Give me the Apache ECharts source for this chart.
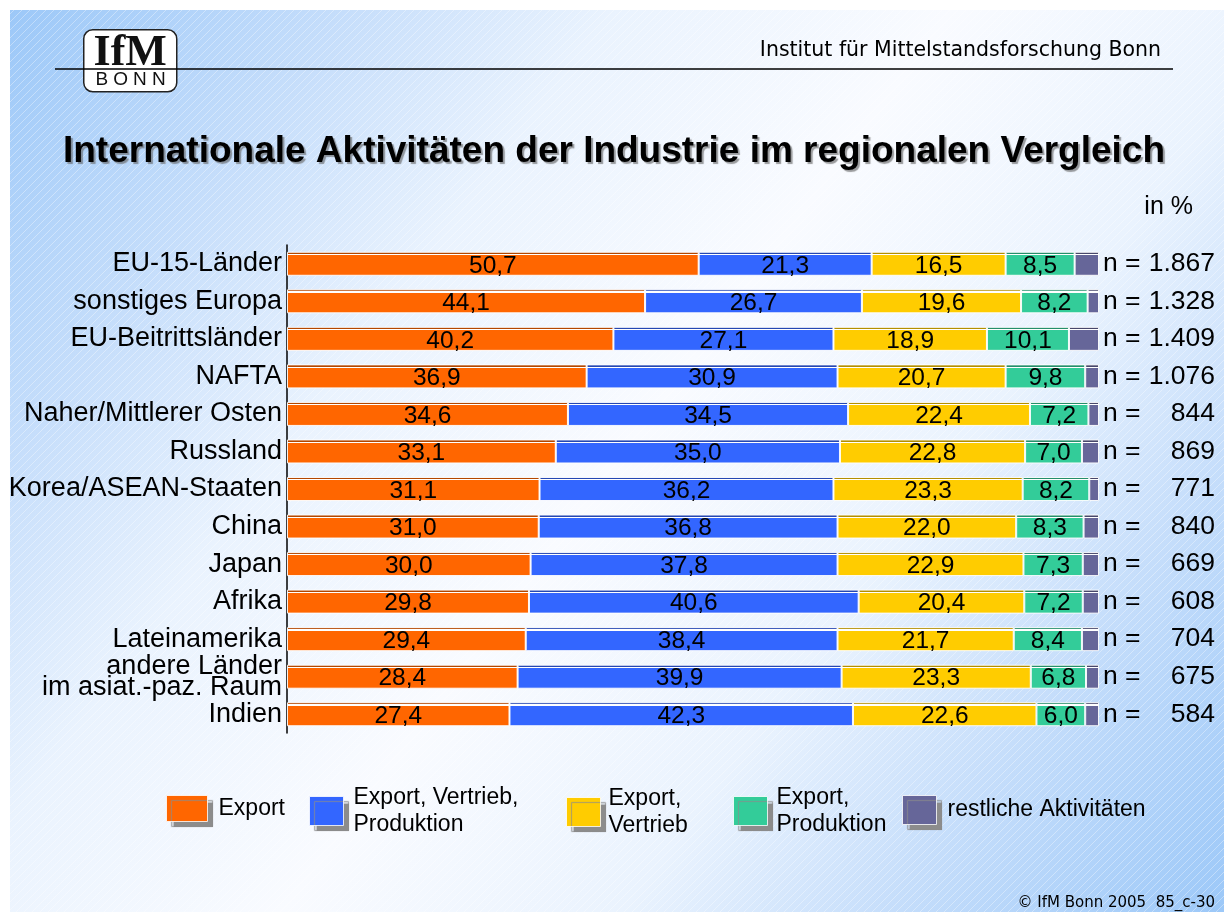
<!DOCTYPE html>
<html><head><meta charset="utf-8">
<script src="https://cdn.jsdelivr.net/npm/echarts@6/dist/echarts.min.js"></script>
<style>html,body{margin:0;padding:0;background:#fff}#c{width:1224px;height:912px}</style>
</head><body><div id="c"></div><script>
const categories = ['EU-15-Länder','sonstiges Europa','EU-Beitrittsländer','NAFTA','Naher/Mittlerer Osten','Russland','Korea/ASEAN-Staaten','China','Japan','Afrika','Lateinamerika','andere Länder\nim asiat.-paz. Raum','Indien'];
const exportVals = [50.7,44.1,40.2,36.9,34.6,33.1,31.1,31.0,30.0,29.8,29.4,28.4,27.4];
const exportVertriebProd = [21.3,26.7,27.1,30.9,34.5,35.0,36.2,36.8,37.8,40.6,38.4,39.9,42.3];
const exportVertrieb = [16.5,19.6,18.9,20.7,22.4,22.8,23.3,22.0,22.9,20.4,21.7,23.3,22.6];
const exportProd = [8.5,8.2,10.1,9.8,7.2,7.0,8.2,8.3,7.3,7.2,8.4,6.8,6.0];
const restliche = [3.0,1.4,3.7,1.7,1.3,2.1,1.2,1.9,2.0,2.0,2.1,1.6,1.7];
const nLabels = ['1.867','1.328','1.409','1.076','844','869','771','840','669','608','704','675','584'];
const seriesNames = ['Export','Export, Vertrieb, Produktion','Export, Vertrieb','Export, Produktion','restliche Aktivitäten'];
const legendTexts = ['Export','Export, Vertrieb,\nProduktion','Export,\nVertrieb','Export,\nProduktion','restliche Aktivitäten'];

const mainColors = ['#FF6600','#3366FF','#FFCC00','#33CC99','#666699'];
const topColors = ['#B34700','#2447B3','#B38F00','#248F6B','#47476B'];
const SANS = '"Liberation Sans", Arial, sans-serif';

function barColor(i){
  return new echarts.graphic.LinearGradient(0,0,0,1,[
    {offset:0,color:topColors[i]},{offset:0.09,color:topColors[i]},
    {offset:0.09,color:'#ffffff'},{offset:0.14,color:'#ffffff'},
    {offset:0.14,color:mainColors[i]},{offset:1,color:mainColors[i]}
  ]);
}
const fmt = p => p.value.toFixed(1).replace('.',',');

const allData = [exportVals, exportVertriebProd, exportVertrieb, exportProd, restliche];
const series = allData.map((d,i)=>({
  name: seriesNames[i], type:'bar', stack:'total', barWidth:24,
  data:d,
  itemStyle:{color:barColor(i), borderColor:'rgba(255,255,255,0.9)', borderWidth:1},
  label:{show:i<4, position:'inside', color:'#000', fontSize:24.5, fontFamily:SANS, offset:[0,2], formatter:fmt},
  emphasis:{disabled:true}
}));

// background stripe pattern
const pc = document.createElement('canvas'); pc.width=8; pc.height=8;
const pctx = pc.getContext('2d');
pctx.strokeStyle='rgba(255,255,255,0.35)'; pctx.lineWidth=1;
pctx.beginPath(); pctx.moveTo(0,8); pctx.lineTo(8,0); pctx.moveTo(-1,1); pctx.lineTo(1,-1); pctx.moveTo(7,9); pctx.lineTo(9,7); pctx.stroke();

const legendPos = [
  {left:166, top:795, w:41, h:26, pad:6},
  {left:309, top:784, w:34, h:29, pad:5},
  {left:566, top:785, w:34, h:29, pad:3},
  {left:733, top:784, w:34, h:29, pad:4},
  {left:902, top:795, w:34, h:29, pad:6}
];
const legends = legendPos.map((p,i)=>({
  left:p.left, top:p.top, padding:0, itemGap:0, itemWidth:p.w, itemHeight:p.h, icon:'rect',
  selectedMode:false,
  data:[{name:seriesNames[i], itemStyle:{color:mainColors[i], borderColor:'rgba(255,255,255,0.8)', borderWidth:1, shadowColor:'#8c8c8c', shadowBlur:1, shadowOffsetX:5, shadowOffsetY:5}}],
  formatter:()=>legendTexts[i],
  textStyle:{fontSize:23, fontFamily:SANS, color:'#000', lineHeight:27, padding:[0,0,0,p.pad]}
}));

const chart = echarts.init(document.getElementById('c'), null, {renderer:'canvas'});
chart.setOption({
  animation:false,
  backgroundColor:'#ffffff',
  legend: legends,
  grid:{left:287, top:245, width:812, height:488, containLabel:false},
  xAxis:{type:'value', min:0, max:100, show:false},
  yAxis:[
    {type:'category', data:categories, inverse:true, offset:2,
     axisLine:{show:true, lineStyle:{color:'#000', width:1.5}}, axisTick:{show:false},
     axisLabel:{color:'#000', fontSize:27, fontFamily:SANS, margin:3, lineHeight:21}},
    {type:'category', data:nLabels, inverse:true, position:'right',
     axisLine:{show:false}, axisTick:{show:false},
     axisLabel:{margin:4, align:'left', formatter:v=>'{a|n =}{b|'+v+'}',
       rich:{a:{fontSize:26.5, fontFamily:SANS, color:'#000', width:42, align:'left'},
             b:{fontSize:26.5, fontFamily:SANS, color:'#000', width:70, align:'right'}}}}
  ],
  series: series,
  graphic:[
    {type:'rect', z:-100, silent:true, shape:{x:10,y:10,width:1214,height:902},
     style:{fill:new echarts.graphic.LinearGradient(0,0,1,1,[
       {offset:0,color:'#9cc8f8'},{offset:0.18,color:'#c6defb'},{offset:0.32,color:'#eaf3fe'},
       {offset:0.5,color:'#f9fbff'},{offset:0.68,color:'#eaf3fe'},{offset:0.82,color:'#c6defb'},{offset:1,color:'#9cc8f8'}])}},
    {type:'rect', z:-99, silent:true, shape:{x:10,y:10,width:1214,height:902},
     style:{fill:{image:pc, repeat:'repeat'}}},
    {type:'line', z:10, silent:true, shape:{x1:55,y1:69,x2:1173,y2:69}, style:{stroke:'#000', lineWidth:1.5}},
    {type:'group', left:83, top:29, z:11, silent:true, children:[
      {type:'rect', shape:{x:0,y:0,width:93,height:62,r:9}, style:{fill:'#fff', stroke:'#222', lineWidth:1.5}},
      {type:'text', x:46.5, y:24, style:{text:'IfM', font:'bold 44px "Liberation Serif", serif', fill:'#111', align:'center', verticalAlign:'middle'}},
      {type:'text', x:46.5, y:50, style:{text:'{a|B}{a|O}{a|N}{a|N}', align:'center', verticalAlign:'middle',
        rich:{a:{font:'19px "Liberation Sans", Arial', fill:'#111', width:19, align:'center'}}}}
    ]},
    {type:'text', z:10, silent:true, x:1161, y:51, style:{text:'Institut für Mittelstandsforschung Bonn', font:'20.5px "DejaVu Sans", sans-serif', fill:'#000', align:'right', verticalAlign:'middle'}},
    {type:'text', z:10, silent:true, x:614, y:152, style:{text:'Internationale Aktivitäten der Industrie im regionalen Vergleich', font:'bold 37px "Liberation Sans", Arial, sans-serif', fill:'#000', align:'center', verticalAlign:'middle', textShadowColor:'rgba(90,90,90,0.6)', textShadowOffsetX:2, textShadowOffsetY:2, textShadowBlur:1}},
    {type:'text', z:10, silent:true, x:1193, y:207, style:{text:'in %', font:'25px "Liberation Sans", Arial, sans-serif', fill:'#000', align:'right', verticalAlign:'middle'}},
    {type:'text', z:10, silent:true, x:1215, y:903, style:{text:'© IfM Bonn 2005  85_c-30', font:'15px "DejaVu Sans", sans-serif', fill:'#000', align:'right', verticalAlign:'middle'}}
  ]
});
</script></body></html>
